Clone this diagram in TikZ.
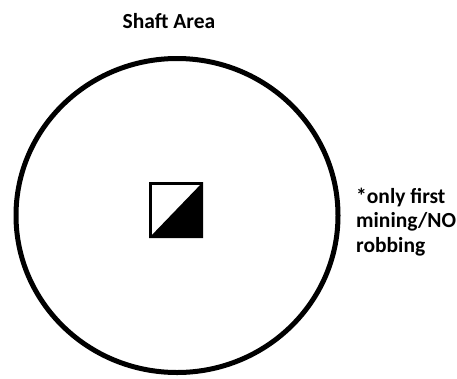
\documentclass[tikz,border=0pt]{standalone}
\usepackage{fontspec}
\setmainfont{Carlito}
\usetikzlibrary{positioning}

\begin{document}
\begin{tikzpicture}[x=1pt,y=-1pt,
  label text/.style={font=\bfseries\fontsize{21.5}{24.5}\selectfont}]
  \useasboundingbox (0,0) rectangle (457,378);
  \draw[line width=5pt] (177,215.5) ellipse [x radius=161, y radius=157];
  \node[label text, anchor=base] (title) at (169,28) {Shaft Area};
  \node[draw, line width=3pt, minimum width=51pt, minimum height=53pt, inner sep=0pt] (shaft) at (176,210) {};
  \fill (shaft.south west) -- (shaft.north east) |- cycle;
  \node[label text, anchor=base west, align=left, inner sep=0pt] (note) at (356,252) {*only first\\mining/NO\\robbing};
\end{tikzpicture}
\end{document}
